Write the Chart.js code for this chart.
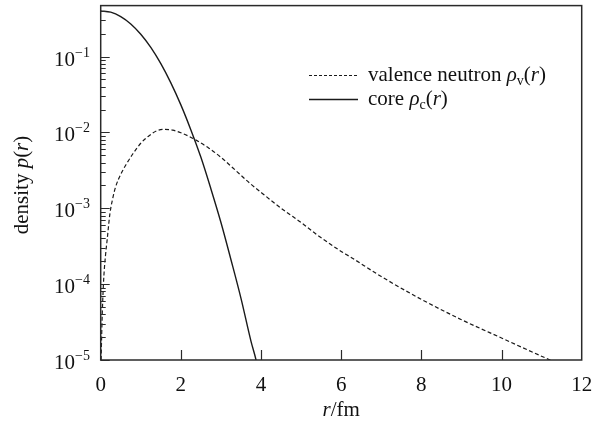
<!DOCTYPE html>
<html>
<head>
<meta charset="utf-8">
<script src="https://cdn.jsdelivr.net/npm/chart.js@4.4.1/dist/chart.umd.min.js"></script>
<style>
  html, body { margin: 0; padding: 0; background: #fff; }
</style>
</head>
<body>
<canvas id="chart" width="595" height="428"></canvas>
<script>
// core density
const rCore = [0, 0.25, 0.5, 0.75, 1.0, 1.25, 1.5, 1.75, 2.0, 2.25, 2.5, 2.75, 3.0, 3.25, 3.5, 3.75, 3.875, 4.0]
const rhoCore = [0.40, 0.385, 0.336, 0.269, 0.197, 0.132, 0.0806, 0.045, 0.0231, 0.0108, 0.0047, 0.0018,
  6.5e-4, 2.1e-4, 6.5e-5, 1.76e-5, 1.0e-5, 4.4e-6]

// valence neutron density
const rVal = [0.01, 0.03, 0.05, 0.08, 0.12, 0.16, 0.23, 0.3, 0.37, 0.5, 0.65, 0.8, 1.0, 1.2, 1.4, 1.6, 1.8, 2.0,
  2.2, 2.4, 2.7, 3.0, 3.3, 3.72, 4.0, 4.56, 5.0, 5.39, 6.0, 6.22, 7.0, 8.0, 9.0, 10.0, 11.21, 11.5]
const rhoVal = [1.0e-5, 2.8e-5, 6e-5, 1.3e-4, 2.4e-4, 3.8e-4, 8.5e-4, 1.35e-3, 1.9e-3, 2.8e-3, 3.9e-3, 5.2e-3,
  7.2e-3, 9.0e-3, 0.0105, 0.0110, 0.0107, 0.0099, 0.0089, 0.0078, 6.2e-3, 4.7e-3, 3.4e-3, 2.14e-3, 1.62e-3,
  9.5e-4, 6.5e-4, 4.5e-4, 2.7e-4, 2.3e-4, 1.26e-4, 6.3e-5, 3.4e-5, 1.95e-5, 1.0e-5, 8.6e-6]

const xTicks = [0, 2, 4, 6, 8, 10, 12]
const yExponents = [-1, -2, -3, -4, -5]
const yMin = 1e-5
const yMax = 0.47

const serif = '"Liberation Serif", "Times New Roman", serif'
const ink = '#1a1a1a'

function toPoints(xs, ys) {
  return xs.map((x, i) => ({ x: x, y: ys[i] }))
}

// draw a row of text pieces with different fonts / offsets
function drawRuns(ctx, runs, x, y) {
  let cx = x
  runs.forEach(r => {
    ctx.font = r.font
    ctx.fillText(r.t, cx, y + (r.dy || 0))
    cx += ctx.measureText(r.t).width
  })
  return cx
}
function runsWidth(ctx, runs) {
  let w = 0
  runs.forEach(r => { ctx.font = r.font; w += ctx.measureText(r.t).width })
  return w
}

const F = '21px ' + serif
const FI = 'italic 21px ' + serif
const FS = '14px ' + serif

const decorations = {
  id: 'decorations',
  afterDraw(chart) {
    const ctx = chart.ctx
    const a = chart.chartArea
    const xs = chart.scales.x
    const ys = chart.scales.y
    ctx.save()
    ctx.strokeStyle = '#2a2a2a'
    ctx.lineWidth = 1.5
    ctx.strokeRect(a.left, a.top, a.right - a.left, a.bottom - a.top)

    // x ticks (inward)
    ctx.lineWidth = 1.2
    ctx.beginPath()
    xTicks.forEach(v => {
      if (v <= 0 || v >= 12) return
      const px = Math.round(xs.getPixelForValue(v)) + 0.5
      ctx.moveTo(px, a.bottom)
      ctx.lineTo(px, a.bottom - 10)
    })
    // y ticks, major + minor
    yExponents.forEach(e => {
      for (let m = 1; m <= 9; m++) {
        const v = m * Math.pow(10, e)
        if (v > yMax || v < yMin) continue
        const py = Math.round(ys.getPixelForValue(v)) + 0.5
        ctx.moveTo(a.left, py)
        ctx.lineTo(a.left + (m === 1 ? 9 : 5), py)
      }
    })
    ctx.stroke()

    ctx.fillStyle = '#111'
    // x tick labels
    ctx.textAlign = 'center'
    ctx.textBaseline = 'alphabetic'
    ctx.font = F
    xTicks.forEach(v => {
      ctx.fillText(String(v), xs.getPixelForValue(v), 391)
    })
    // y tick labels 10^e
    ctx.textAlign = 'left'
    yExponents.forEach(e => {
      const py = ys.getPixelForValue(Math.pow(10, e))
      const runs = [
        { t: '10', font: F, dy: 0 },
        { t: '\u2212' + Math.abs(e), font: FS, dy: -9 }
      ]
      const w = runsWidth(ctx, runs)
      drawRuns(ctx, runs, 90 - w, py + 9)
    })

    // x title
    const xt = [{ t: 'r', font: FI }, { t: '/fm', font: F }]
    drawRuns(ctx, xt, (a.left + a.right) / 2 - runsWidth(ctx, xt) / 2, 416)

    // y title
    const yt = [{ t: 'density ', font: F }, { t: 'p', font: FI }, { t: '(', font: F }, { t: 'r', font: FI }, { t: ')', font: F }]
    ctx.save()
    ctx.translate(28, 185)
    ctx.rotate(-Math.PI / 2)
    drawRuns(ctx, yt, -runsWidth(ctx, yt) / 2, 0)
    ctx.restore()

    // legend
    ctx.strokeStyle = ink
    ctx.lineWidth = 1.1
    ctx.setLineDash([3, 2])
    ctx.beginPath()
    ctx.moveTo(309, 75.5)
    ctx.lineTo(358, 75.5)
    ctx.stroke()
    ctx.setLineDash([])
    ctx.lineWidth = 1.3
    ctx.beginPath()
    ctx.moveTo(309, 99.5)
    ctx.lineTo(358, 99.5)
    ctx.stroke()

    drawRuns(ctx, [{ t: 'valence neutron ', font: F }, { t: '\u03c1', font: FI }, { t: 'v', font: FS, dy: 4 },
      { t: '(', font: F }, { t: 'r', font: FI }, { t: ')', font: F }], 368, 80.5)
    drawRuns(ctx, [{ t: 'core ', font: F }, { t: '\u03c1', font: FI }, { t: 'c', font: FS, dy: 4 },
      { t: '(', font: F }, { t: 'r', font: FI }, { t: ')', font: F }], 368, 104.5)
    ctx.restore()
  }
}

const ctx = document.getElementById('chart').getContext('2d')
const chart = new Chart(ctx, {
  type: 'line',
  data: {
    datasets: [{
      label: 'valence neutron',
      data: toPoints(rVal, rhoVal),
      borderColor: ink,
      borderWidth: 1.2,
      borderDash: [4, 2.5],
      pointRadius: 0,
      cubicInterpolationMode: 'monotone',
      fill: false
    }, {
      label: 'core',
      data: toPoints(rCore, rhoCore),
      borderColor: ink,
      borderWidth: 1.4,
      pointRadius: 0,
      cubicInterpolationMode: 'monotone',
      fill: false
    }]
  },
  options: {
    responsive: false,
    animation: false,
    devicePixelRatio: 1,
    layout: { padding: { left: 0, right: 13.3, top: 5.6, bottom: 0 } },
    plugins: { legend: { display: false }, tooltip: { enabled: false } },
    scales: {
      x: {
        type: 'linear', min: 0, max: 12,
        ticks: { display: false },
        grid: { display: false },
        border: { display: false },
        afterFit: s => { s.height = 68 }
      },
      y: {
        type: 'logarithmic', min: yMin, max: yMax,
        ticks: { display: false },
        grid: { display: false },
        border: { display: false },
        afterFit: s => { s.width = 100.7 }
      }
    }
  },
  plugins: [decorations]
})
</script>
</body>
</html>
